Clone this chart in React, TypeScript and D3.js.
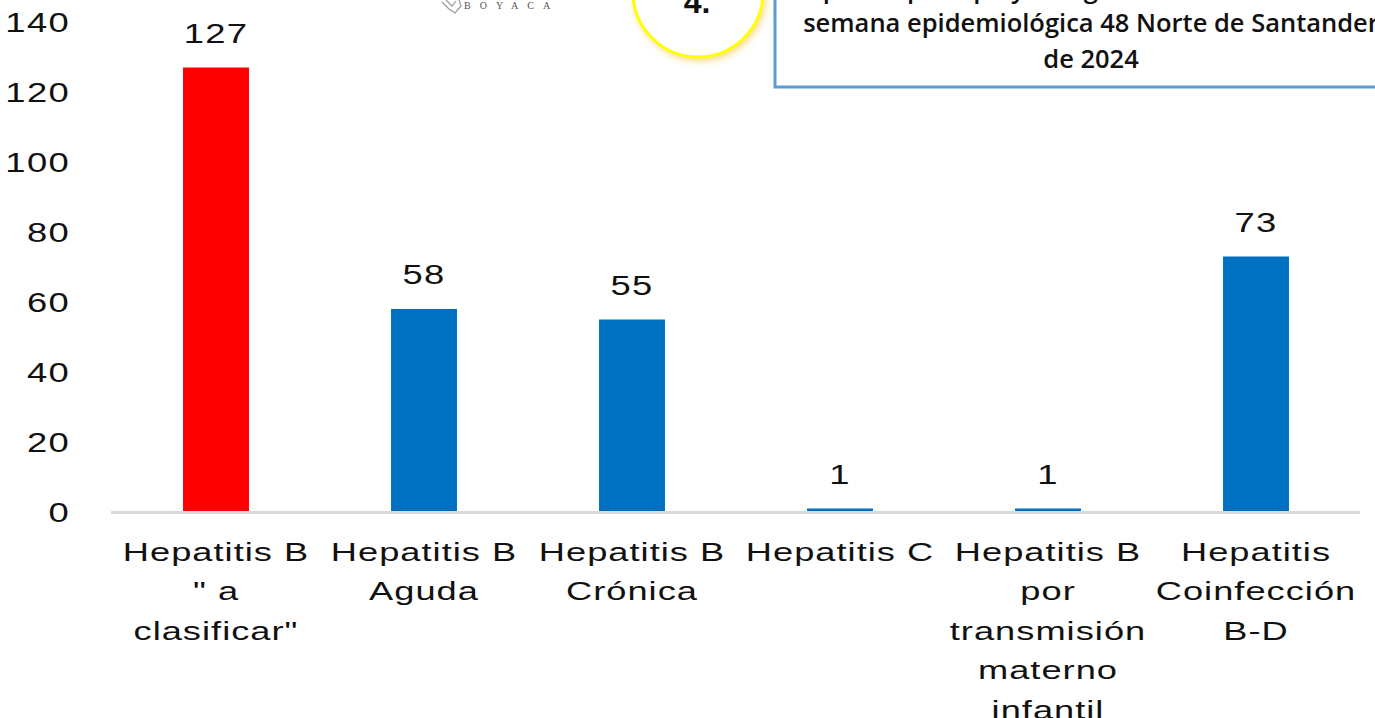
import * as d3 from 'd3';

const W = 1375;
const H = 718;

// data
const categories = ['hbClasificar', 'hbAguda', 'hbCronica', 'hc', 'hbMaterno', 'hbd'];
const labelLines = [
	['Hepatitis B', '" a', 'clasificar"'],
	['Hepatitis B', 'Aguda'],
	['Hepatitis B', 'Crónica'],
	['Hepatitis C'],
	['Hepatitis B', 'por', 'transmisión', 'materno', 'infantil'],
	['Hepatitis', 'Coinfección', 'B-D'],
];
const values = [127, 58, 55, 1, 1, 73];
const barColors = ['#ff0000', '#0070c0', '#0070c0', '#0070c0', '#0070c0', '#0070c0'];
const yTicks = [0, 20, 40, 60, 80, 100, 120, 140];

const titleLines = [
	'Hepatitis por tipo y categoría notificados hasta la',
	'semana epidemiológica 48 Norte de Santander',
	'de 2024',
];
const titleBaselines = [-2, 32, 68];

const FONT = '"Liberation Sans", Arial, sans-serif';
const SX = 1.3; // digits in the source are stretched horizontally
const SX_LABEL = 1.45;

const App = () => {
	const x = d3.scaleBand<string>()
		.domain(categories)
		.range([112, 1360])
		.paddingInner(0.683)
		.paddingOuter(0.3415);

	const y = d3.scaleLinear()
		.domain([0, 140])
		.range([512, 22]);

	return (
		<svg width={W} height={H} style={{position: 'absolute', left: 0, top: 0, background: '#fff'}}>
			<defs>
				<filter id="glow" x="-30%" y="-30%" width="160%" height="160%">
					<feDropShadow dx="2" dy="3" stdDeviation="3" floodColor="#f2c230" floodOpacity="0.55" />
				</filter>
			</defs>

			{/* logo remnant */}
			<g fill="none" stroke="#9a9a9a" strokeWidth="1.2">
				<path d="M442,2 L449,9 L455,13 L461,6 L459,0" />
				<path d="M446,0 L452,6 L456,1" />
			</g>
			<text x={464} y={9} fontFamily='"Liberation Serif", serif' fontSize={10} fill="#555" letterSpacing={9}>BOYACA</text>

			{/* yellow circle */}
			<circle cx={698} cy={-8} r={65} fill="#fff" stroke="#ffff00" strokeWidth={3} filter="url(#glow)" />
			<text x={697} y={13} textAnchor="middle" fontFamily={FONT} fontWeight="bold" fontSize={32} fill="#111">4.</text>

			{/* title box */}
			<rect x={775} y={-20} width={640} height={107} fill="#fff" stroke="#5b9bd5" strokeWidth={3} />
			{titleLines.map((t, i) => (
				<text key={i}
					transform={`translate(1091, ${titleBaselines[i]}) scale(1.02,1)`}
					textAnchor="middle"
					fontFamily='"Open Sans", sans-serif'
					fontWeight={600}
					fontSize={25}
					fill="#111">{t}</text>
			))}

			{/* y axis labels */}
			{yTicks.map(t => (
				<text key={t}
					transform={`translate(70, ${y(t)}) scale(${SX},1)`}
					textAnchor="end"
					dy="0.36em"
					fontFamily={FONT}
					fontSize={28}
					letterSpacing={1}
					fill="#111">{t}</text>
			))}

			{/* bars */}
			{categories.map((c, i) => (
				<rect key={c}
					x={x(c)}
					y={y(values[i])}
					width={x.bandwidth()}
					height={y(0) - y(values[i])}
					fill={barColors[i]} />
			))}

			{/* baseline */}
			<line x1={111} x2={1360} y1={512.5} y2={512.5} stroke="#d9d9d9" strokeWidth={3} />

			{/* value labels */}
			{categories.map((c, i) => (
				<text key={c}
					transform={`translate(${(x(c) as number) + x.bandwidth() / 2}, ${y(values[i]) - 25}) scale(${SX},1)`}
					textAnchor="middle"
					fontFamily={FONT}
					fontSize={28}
					letterSpacing={1}
					fill="#111">{values[i]}</text>
			))}

			{/* category labels */}
			{categories.map((c, i) => (
				<g key={c} transform={`translate(${(x(c) as number) + x.bandwidth() / 2}, 561)`}>
					{labelLines[i].map((line, j) => (
						<text key={j}
							transform={`translate(0, ${j * 39.4}) scale(${SX_LABEL},1)`}
							textAnchor="middle"
							fontFamily={FONT}
							fontSize={25}
							letterSpacing={0.7}
							fill="#111">{line}</text>
					))}
				</g>
			))}
		</svg>
	);
};

export default App;
